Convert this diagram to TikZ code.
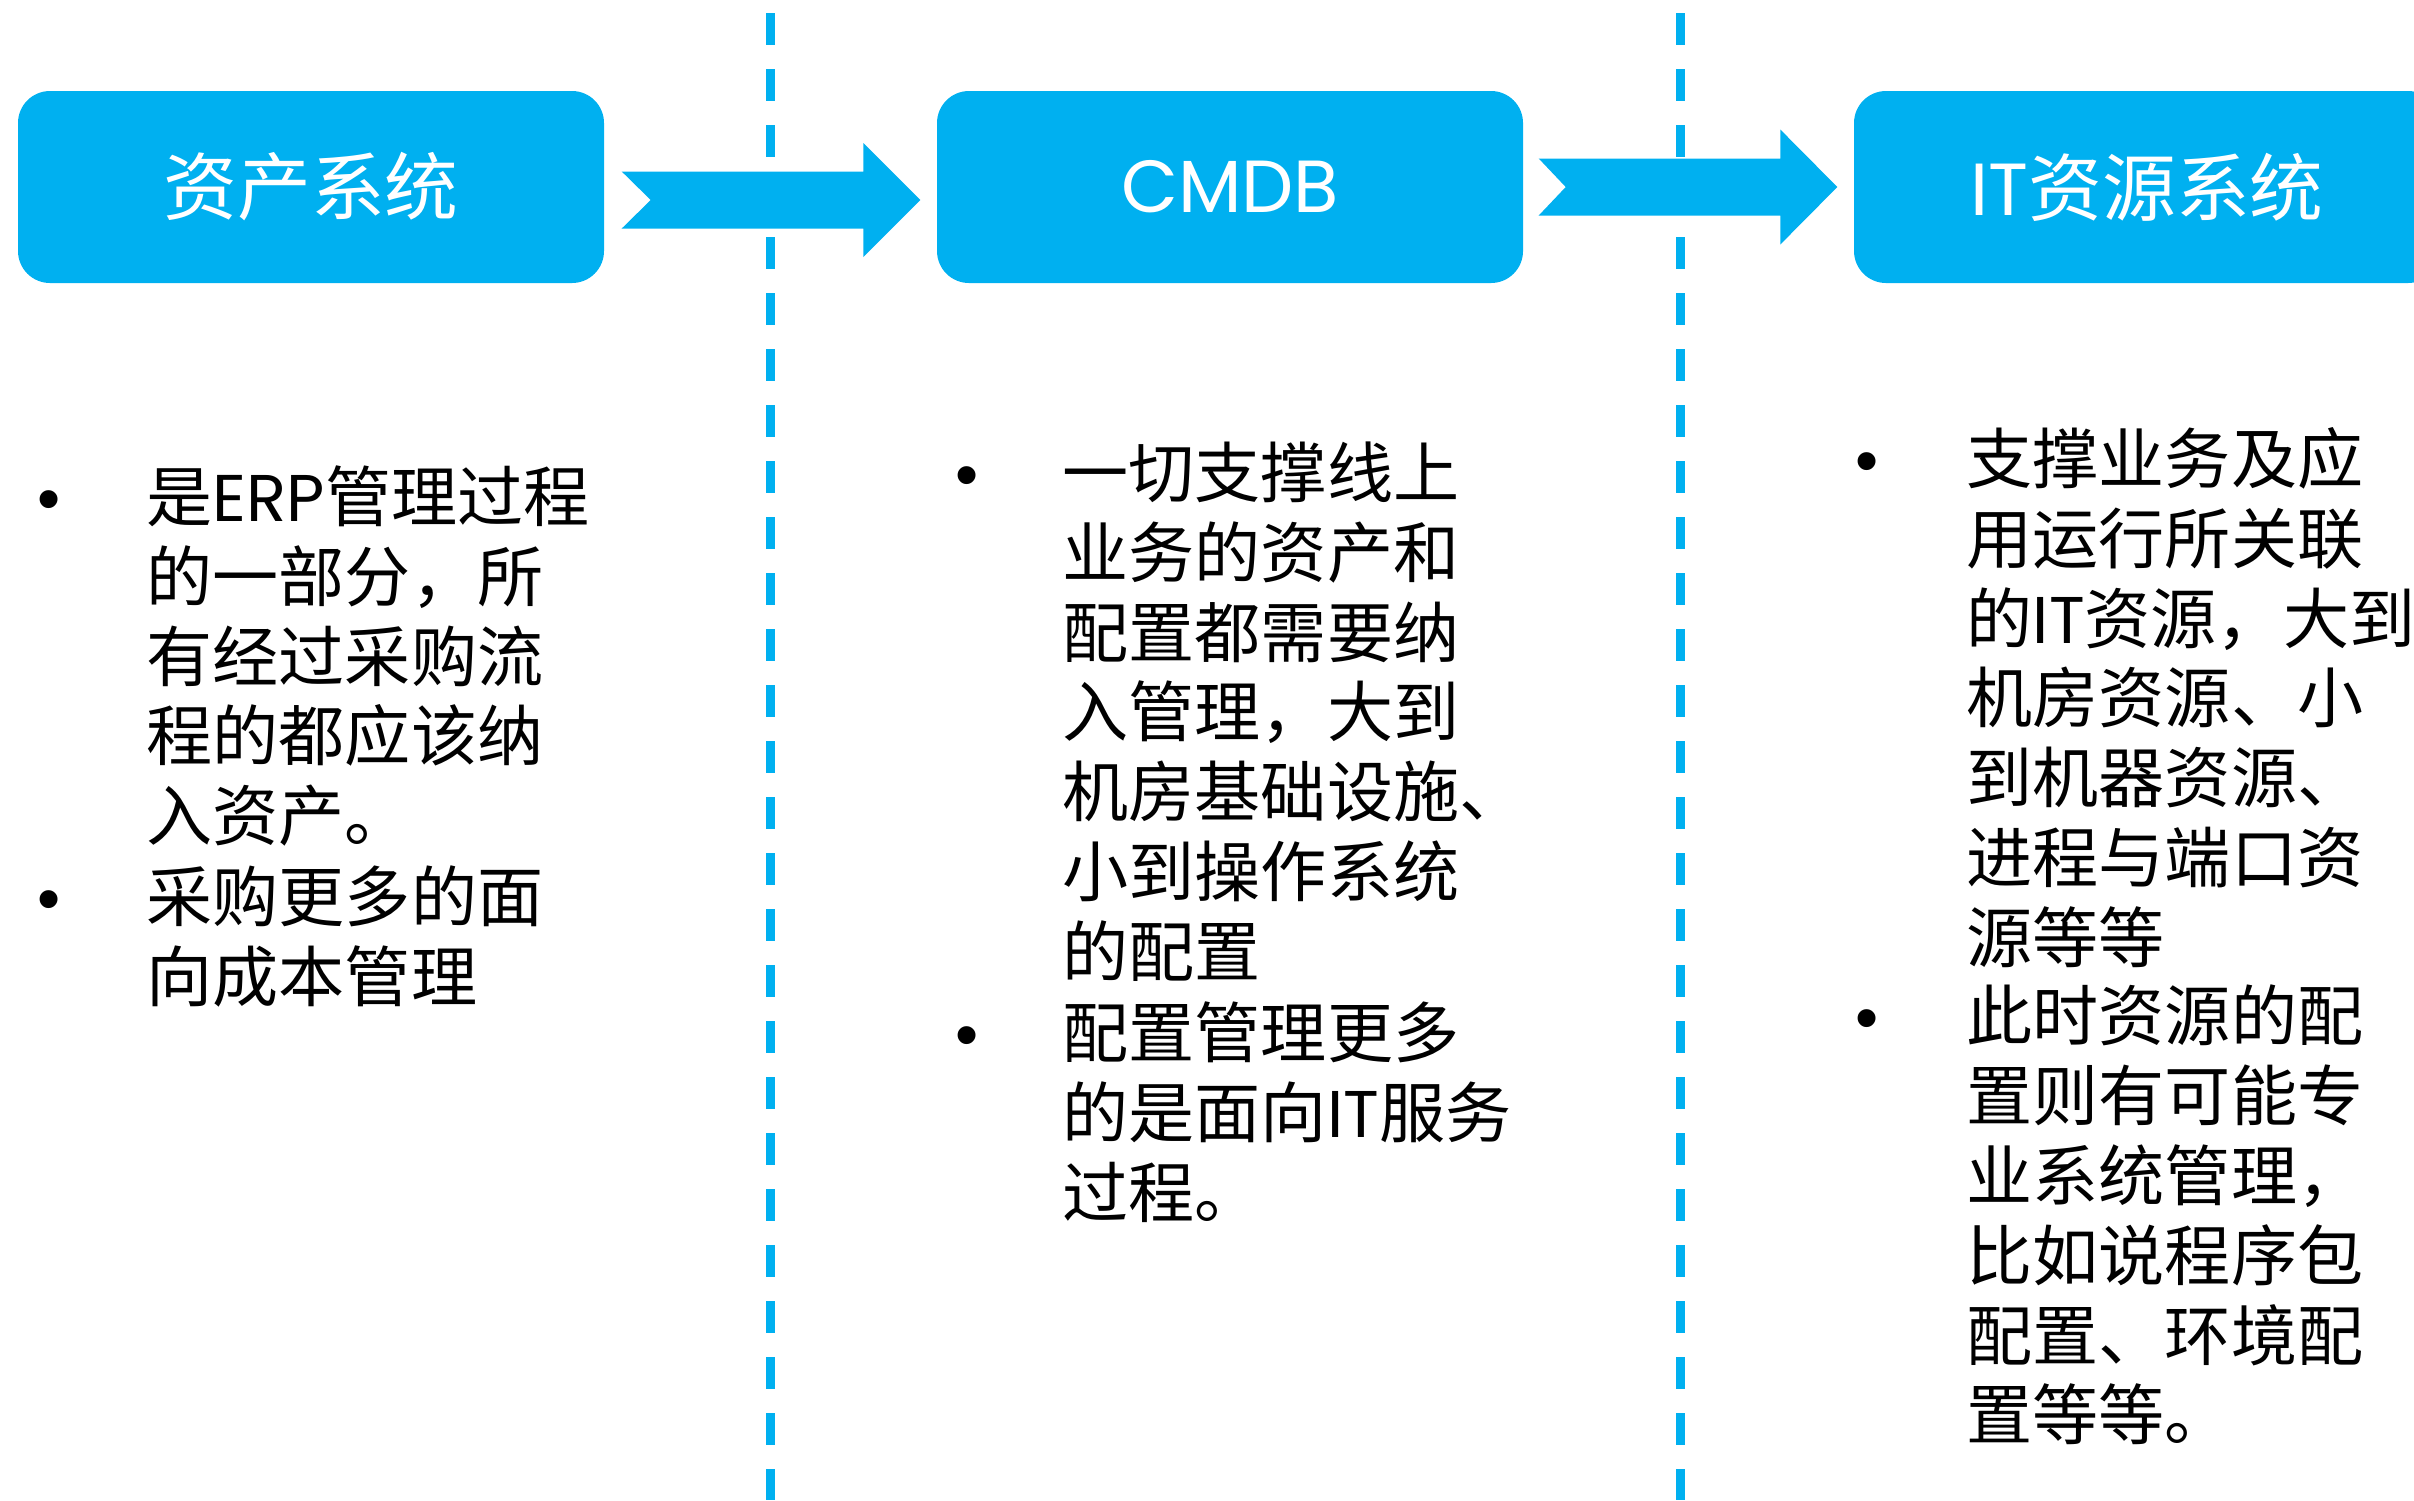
\documentclass[tikz,border=0pt]{standalone}
\usepackage{fontspec}
\setmainfont{Noto Sans CJK SC}
\newfontfamily\latinfont{Poppins}
\newfontfamily\bulletfont{Liberation Sans}
\usetikzlibrary{calc}
\definecolor{boxblue}{HTML}{00B0F0}

\begin{document}
\begin{tikzpicture}[
    system/.style={rectangle, rounded corners=0.32cm, fill=boxblue, text=white, minimum width=5.86cm, minimum height=1.92cm, inner sep=0pt, font=\fontsize{21pt}{25pt}\selectfont},
    itemtext/.style={anchor=base west, inner sep=0pt, text width=5.6cm, align=left, font=\fontsize{18.8pt}{22.76pt}\selectfont},
    bulletmark/.style={anchor=base, inner sep=0pt, font=\bulletfont\fontsize{18.8pt}{22.76pt}\selectfont},
    divider/.style={boxblue, line width=0.09cm, dash pattern=on 0.32cm off 0.24cm},
    flow/.style={fill=boxblue}
]
\useasboundingbox (0,0) rectangle (24.14,-15);

% Dashed dividers between the columns
\draw[divider] (7.70,-0.13) coordinate (d1top) -- (7.70,-15) coordinate (d1bot);
\draw[divider] (16.80,-0.13) coordinate (d2top) -- (16.80,-15) coordinate (d2bot);

% Three systems
\node[system] (asset) at (3.11,-1.87) {资产系统};
\node[system] (cmdb) at (12.30,-1.87) {\latinfont CMDB};
\node[system] (itres) at (21.47,-1.87) {{\latinfont IT}资源系统};

% Block arrows
\coordinate (a1s) at ($(asset.east)+(0,-0.13)$);
\coordinate (a1e) at ($(cmdb.west)+(0,-0.13)$);
\fill[flow] ($(a1s)+(0.17,0.285)$) -- ($(a1e)+(-0.73,0.285)$) -- ($(a1e)+(-0.73,0.57)$) -- ($(a1e)+(-0.16,0)$) -- ($(a1e)+(-0.73,-0.57)$) -- ($(a1e)+(-0.73,-0.285)$) -- ($(a1s)+(0.17,-0.285)$) -- ($(a1s)+(0.46,0)$) -- cycle;

\coordinate (a2s) at (cmdb.east);
\coordinate (a2e) at (itres.west);
\fill[flow] ($(a2s)+(0.15,0.285)$) -- ($(a2e)+(-0.73,0.285)$) -- ($(a2e)+(-0.73,0.575)$) -- ($(a2e)+(-0.16,0)$) -- ($(a2e)+(-0.73,-0.575)$) -- ($(a2e)+(-0.73,-0.285)$) -- ($(a2s)+(0.15,-0.285)$) -- ($(a2s)+(0.42,0)$) -- cycle;

% Asset column
\node[bulletmark] (b11) at (0.495,-5.21) {•};
\node[itemtext] (t11) at (1.46,-5.21) {是{\latinfont ERP}管理过程\\的一部分，所\\有经过采购流\\程的都应该纳\\入资产。};
\node[bulletmark] (b12) at (0.495,-9.21) {•};
\node[itemtext] (t12) at (1.46,-9.21) {采购更多的面\\向成本管理};

% CMDB column
\node[bulletmark] (b21) at (9.67,-4.97) {•};
\node[itemtext] (t21) at (10.62,-4.97) {一切支撑线上\\业务的资产和\\配置都需要纳\\入管理，大到\\机房基础设施、\\小到操作系统\\的配置};
\node[bulletmark] (b22) at (9.67,-10.57) {•};
\node[itemtext] (t22) at (10.62,-10.57) {配置管理更多\\的是面向{\latinfont IT}服务\\过程。};

% IT resource column
\node[bulletmark] (b31) at (18.67,-4.83) {•};
\node[itemtext] (t31) at (19.66,-4.83) {支撑业务及应\\用运行所关联\\的{\latinfont IT}资源，大到\\机房资源、小\\到机器资源、\\进程与端口资\\源等等};
\node[bulletmark] (b32) at (18.67,-10.40) {•};
\node[itemtext] (t32) at (19.66,-10.40) {此时资源的配\\置则有可能专\\业系统管理，\\比如说程序包\\配置、环境配\\置等等。};

\end{tikzpicture}
\end{document}
